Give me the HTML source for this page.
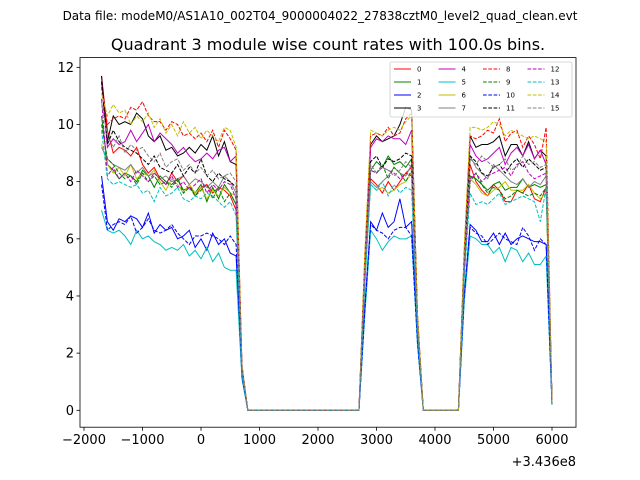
<!DOCTYPE html>
<html><head><meta charset="utf-8"><style>
body{margin:0;background:#fff;}
svg{display:block;font-family:"DejaVu Sans","Liberation Sans",sans-serif;}
</style></head><body>
<svg id="chart" width="640" height="480" viewBox="0 0 640 480">
<text x="320" y="20" font-size="12" text-anchor="middle">Data file: modeM0/AS1A10_002T04_9000004022_27838cztM0_level2_quad_clean.evt</text>
<text x="328" y="50" font-size="16" text-anchor="middle">Quadrant 3 module wise count rates with 100.0s bins.</text>
<g id="plot"></g>
</svg>
<script>
const times=[];for(let t=-1700;t<=6000;t+=100)times.push(t);
const zeroIdx=[[25,44],[55,61]];
const xTicks=[-2000,-1000,0,1000,2000,3000,4000,5000,6000];
const yTicks=[0,2,4,6,8,10,12];
const names=["0","1","2","3","4","5","6","7","8","9","10","11","12","13","14","15"];
const s0=[11.7,9.8,9.0,9.2,9.1,8.9,9.2,8.6,8.3,8.5,8.1,7.9,8.3,8.0,8.2,7.9,7.5,7.8,7.9,7.6,7.8,7.7,7.5,7.0,1.4,4.5,8.1,7.9,7.6,8.0,7.7,8.0,8.3,8.5,3.0,4.8,8.6,8.0,7.7,7.5,7.9,7.7,7.3,7.3,7.7,7.6,7.9,7.4,7.3,7.8,0.3];
const s1=[10.3,8.6,8.4,8.1,8.3,8.2,8.0,8.4,8.2,7.8,8.2,8.0,7.9,8.1,7.7,7.8,7.6,7.9,7.3,7.8,7.4,7.9,7.6,7.2,1.4,4.8,8.4,8.7,8.5,8.9,8.6,8.7,8.5,8.8,3.1,5.0,8.2,8.1,7.9,7.7,7.9,8.0,7.7,7.8,7.8,8.1,7.8,7.9,7.8,7.9,0.3];
const s2=[8.2,6.6,6.3,6.7,6.6,6.8,6.7,6.4,6.9,6.2,6.5,6.3,6.4,6.0,6.1,6.3,5.7,6.0,5.6,6.2,5.8,6.0,5.5,5.4,1.2,3.6,6.6,6.3,6.9,6.4,6.6,7.4,6.4,6.6,2.5,4.0,6.5,6.3,5.9,5.9,6.2,5.8,6.2,5.8,6.0,6.1,6.0,5.9,5.9,5.8,0.2];
const s3=[11.7,9.4,10.3,10.0,10.1,10.0,10.4,10.2,9.6,9.4,9.6,9.1,9.2,8.9,9.0,9.2,9.0,9.3,9.1,9.6,8.9,9.4,8.7,8.6,1.5,5.2,9.3,9.6,9.4,9.5,9.6,10.0,10.6,10.5,3.3,5.5,9.6,9.2,9.3,9.3,9.4,9.6,8.9,9.3,9.3,8.9,9.4,8.8,9.1,8.9,0.3];
const s4=[11.5,9.2,9.5,9.3,9.4,9.8,9.4,9.7,10.0,9.4,9.7,9.5,9.3,9.0,9.2,8.9,8.7,8.8,9.0,8.8,9.1,9.2,8.7,8.9,1.5,5.1,9.2,9.5,9.4,9.6,9.5,9.5,9.3,9.8,3.2,5.4,9.3,8.9,8.7,8.8,9.0,9.2,8.6,9.0,9.2,8.9,9.3,8.8,9.1,8.6,0.3];
const s5=[7.0,6.3,6.2,6.3,6.1,5.8,6.3,6.0,6.1,5.9,5.8,5.6,5.7,5.6,5.8,5.4,5.6,5.3,5.7,5.2,5.5,5.0,4.9,4.9,1.1,3.3,6.3,6.0,5.6,5.9,6.1,6.0,6.0,6.1,2.3,3.8,6.1,6.0,5.8,5.8,5.5,5.7,5.2,5.7,5.6,5.2,5.5,5.1,5.1,5.4,0.2];
const s6=[9.3,8.6,8.3,8.5,8.2,8.6,8.1,8.3,8.2,8.4,8.0,7.7,8.1,7.9,7.6,7.9,7.6,7.8,7.4,7.7,7.5,7.8,7.6,7.5,1.4,4.5,7.9,7.7,7.8,7.6,7.7,7.9,8.0,8.3,3.0,4.8,8.1,7.9,7.6,7.5,7.7,7.8,8.0,7.7,7.7,7.7,7.9,7.6,7.4,7.6,0.3];
const s7=[9.2,8.8,8.6,8.5,8.4,8.6,8.3,8.5,8.2,8.3,8.1,8.2,8.0,8.1,8.2,7.9,8.1,8.0,7.8,8.0,7.8,8.2,8.0,7.6,1.4,4.6,8.0,7.8,8.0,8.2,8.5,8.3,8.2,8.6,3.0,4.9,8.9,8.5,8.3,8.1,8.6,8.4,8.2,8.0,7.9,8.1,7.8,8.0,7.9,8.2,0.3];
const s8=[11.3,10.0,10.2,10.3,10.2,10.6,10.5,10.8,10.3,10.1,10.1,9.8,10.1,10.0,9.6,9.7,9.5,9.7,9.4,9.8,9.2,9.8,9.5,9.1,1.6,5.4,9.6,9.7,9.6,9.9,9.6,9.7,10.2,10.4,3.4,5.6,9.6,9.5,9.6,9.8,9.7,10.2,9.4,9.7,9.8,9.2,9.6,9.3,8.8,9.9,0.3];
const s9=[10.0,8.8,8.6,8.3,8.1,8.2,7.9,8.3,8.0,8.2,7.9,8.0,7.8,8.1,7.6,7.8,7.5,7.7,7.9,7.4,7.8,7.3,7.6,7.2,1.4,4.7,8.4,8.3,8.6,8.1,8.5,8.3,8.0,8.4,3.0,4.9,8.0,8.3,7.9,7.6,7.8,7.7,7.4,7.5,7.7,7.6,7.5,7.6,7.5,7.8,0.3];
const s10=[7.9,6.3,6.5,6.6,6.5,6.8,6.2,6.4,6.7,6.3,6.2,6.3,6.5,6.2,6.0,5.8,6.1,6.1,6.2,6.1,6.0,5.8,6.1,5.8,1.2,3.5,6.5,6.3,6.2,6.0,6.3,6.4,6.4,6.1,2.4,4.0,6.4,6.2,6.1,5.8,6.0,6.2,6.0,5.9,5.8,6.4,6.1,5.6,6.0,5.8,0.2];
const s11=[11.5,9.3,9.8,9.4,9.2,9.1,9.0,8.8,8.6,8.9,8.5,8.4,8.3,8.6,8.2,8.5,8.3,8.8,8.2,8.0,8.3,8.1,8.0,7.8,1.5,4.9,8.7,8.9,8.5,8.8,8.7,8.8,9.0,8.9,3.1,5.2,8.9,8.7,8.3,8.2,8.5,8.6,8.3,8.6,8.8,8.5,8.8,8.6,8.4,8.5,0.3];
const s12=[10.9,8.2,8.5,8.1,8.3,8.0,8.4,8.2,8.0,8.3,8.1,7.9,8.2,7.8,8.0,7.7,7.9,8.1,7.6,7.9,7.7,8.0,7.9,7.4,1.4,4.7,8.4,8.3,8.5,8.4,8.3,8.1,8.3,8.2,3.0,4.9,8.1,8.3,8.0,8.2,8.3,8.4,8.5,8.2,8.6,8.7,8.3,8.1,8.2,8.3,0.3];
const s13=[9.8,8.1,7.9,8.0,7.9,7.8,7.9,7.6,7.7,7.3,7.8,7.5,7.6,7.8,7.4,7.3,7.5,7.4,7.6,7.5,7.3,7.1,7.3,6.8,1.3,4.3,7.9,7.7,8.0,7.5,7.9,7.6,7.8,7.7,2.8,4.6,7.6,7.2,7.3,7.2,7.4,7.6,7.2,7.3,7.4,7.5,7.4,7.3,6.6,7.8,0.2];
const s14=[11.1,10.3,10.7,10.4,10.5,10.0,10.3,10.1,10.4,9.9,10.2,9.7,10.0,9.6,10.1,9.7,9.9,9.5,9.8,9.6,9.4,9.9,9.8,9.2,1.6,5.5,9.8,9.7,9.6,9.8,9.9,9.8,10.1,10.3,3.4,5.7,9.9,9.9,9.8,9.9,10.1,10.0,9.6,9.8,9.7,9.6,9.5,9.6,9.5,9.4,0.3];
const s15=[10.8,9.6,9.2,9.6,9.0,9.3,9.1,9.2,8.9,8.7,9.0,8.5,8.7,8.8,8.4,8.6,8.3,8.5,8.2,8.4,8.1,8.2,8.3,8.0,1.5,4.8,8.6,8.3,8.5,8.4,8.2,8.4,8.7,8.5,3.1,5.1,8.8,8.6,8.9,8.7,8.5,8.6,8.8,8.4,8.5,8.9,8.6,8.7,8.5,8.6,0.3];
const series=[s0,s1,s2,s3,s4,s5,s6,s7,s8,s9,s10,s11,s12,s13,s14,s15];
const colors=["#ff0000","#008000","#0000ff","#000000","#bf00bf","#00bfbf","#bfbf00","#808080"];
const L=80,R=576,T=57.6,B=427.2;
const xs=v=>201+(v)*0.0585;
const ys=v=>410.3-v*28.58;
const NS="http://www.w3.org/2000/svg";
const g=document.getElementById('plot');
function mk(tag,at){const e=document.createElementNS(NS,tag);for(const k in at)e.setAttribute(k,at[k]);return e;}
function isZero(k){return zeroIdx.some(r=>k>=r[0]&&k<=r[1]);}
series.forEach((arr,i)=>{
  let j=0;const pts=[];
  times.forEach((t,k)=>{let v;if(isZero(k))v=0;else{v=arr[j];j++;}pts.push(xs(t).toFixed(2)+","+ys(v).toFixed(2));});
  const p=mk('polyline',{points:pts.join(' '),fill:'none',stroke:colors[i%8],'stroke-width':1});
  if(i>=8)p.setAttribute('stroke-dasharray','3.7,1.6');
  
  
  g.appendChild(p);
});
const fr=mk('rect',{x:L,y:T,width:R-L,height:B-T,fill:'none',stroke:'#000','stroke-width':0.8});


g.appendChild(fr);
xTicks.forEach(v=>{
  const x=xs(v);
  const tk=mk('line',{x1:x,x2:x,y1:B,y2:B+3.5,stroke:'#000','stroke-width':0.8});
  
  
  g.appendChild(tk);
  const tx=mk('text',{x:x,y:B+17,'font-size':13,'text-anchor':'middle'});
  tx.textContent=v<0?'\u2212'+(-v):String(v);
  
  
  g.appendChild(tx);
});
yTicks.forEach(v=>{
  const y=ys(v);
  const tk=mk('line',{x1:L-3.5,x2:L,y1:y,y2:y,stroke:'#000','stroke-width':0.8});
  
  
  g.appendChild(tk);
  const tx=mk('text',{x:L-6,y:y+4.5,'font-size':13,'text-anchor':'end'});
  tx.textContent=String(v);
  
  
  g.appendChild(tx);
});
const off=mk('text',{x:576,y:466,'font-size':13,'text-anchor':'end'});
off.textContent='+3.436e8';


g.appendChild(off);
const lg=mk('rect',{x:390,y:62,width:182,height:55,fill:'#fff','fill-opacity':0.8,stroke:'#ccc','stroke-width':0.8,rx:2});


g.appendChild(lg);
names.forEach((n,i)=>{
  const col=Math.floor(i/4),row=i%4;
  const x=394+col*44.5,y=69+row*13;
  const ln=mk('line',{x1:x,x2:x+17,y1:y,y2:y,stroke:colors[i%8],'stroke-width':1});
  if(i>=8)ln.setAttribute('stroke-dasharray','3.7,1.6');
  
  
  g.appendChild(ln);
  const tx=mk('text',{x:x+23,y:y+2.5,'font-size':7});
  tx.textContent=n;
  
  
  g.appendChild(tx);
});
</script>
</body></html>
